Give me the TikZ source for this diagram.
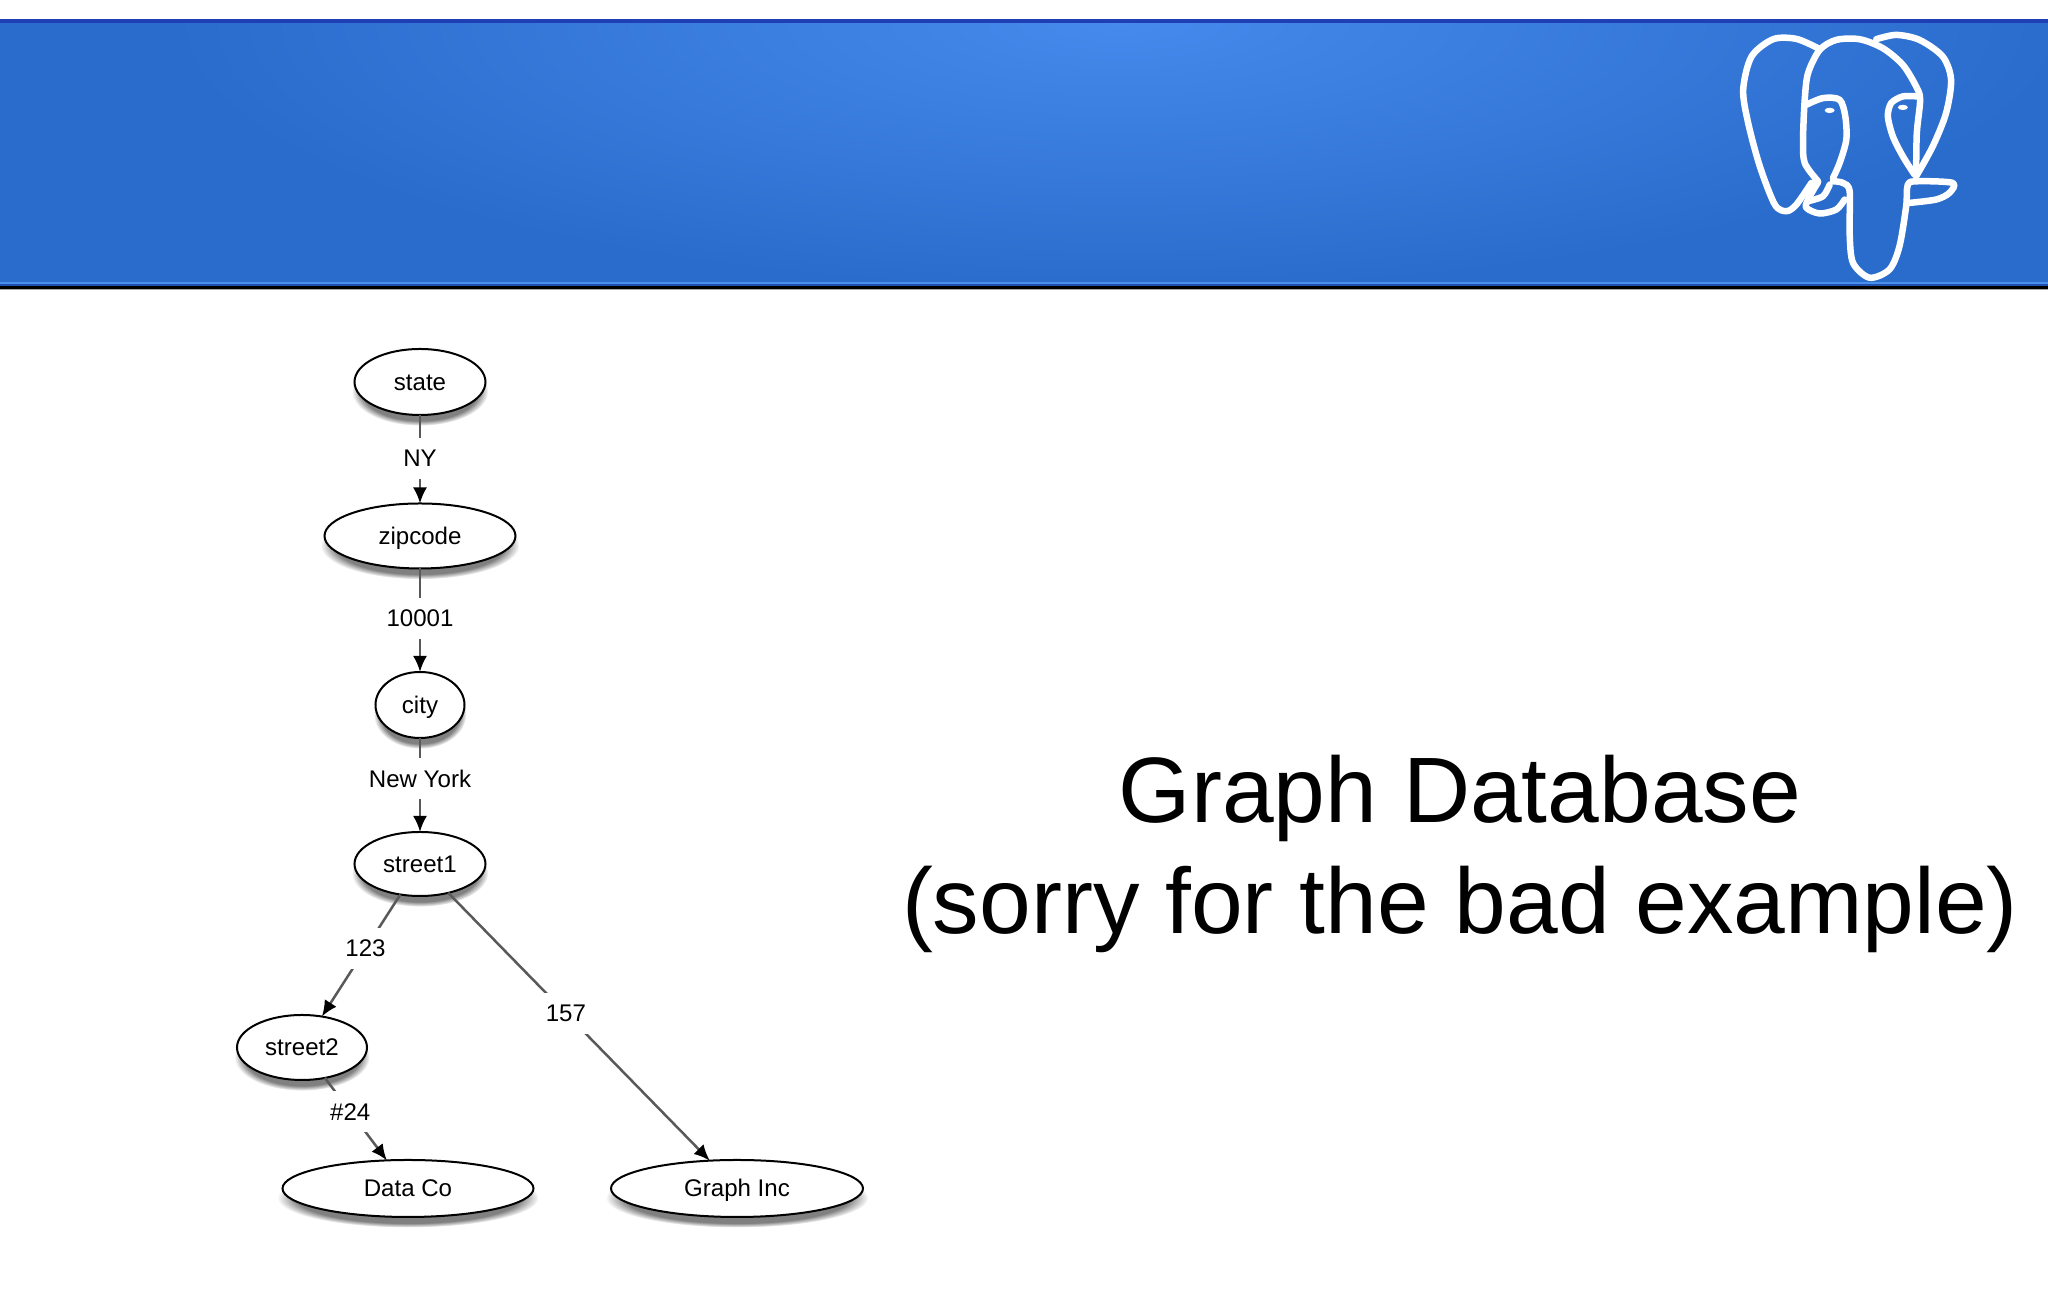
\documentclass[tikz,border=0pt]{standalone}
\usepackage{fontspec}
\setmainfont{Liberation Sans}
\usetikzlibrary{arrows.meta,shapes.geometric,shadows}

\definecolor{bandblue}{HTML}{2A6CCC}
\definecolor{bandglow}{HTML}{458AEC}
\definecolor{bandtop}{HTML}{1F3FB5}
\definecolor{bandlow}{HTML}{4A90EA}
\definecolor{bandrim}{HTML}{1F4FB0}
\pgfdeclareradialshading{bandshade}{\pgfpoint{0bp}{0bp}}{%
    color(0bp)=(bandglow); color(25bp)=(bandblue); color(50bp)=(bandblue)}

\tikzset{
    vert/.style={draw, ellipse, fill=white, line width=0.02cm, inner sep=0pt, outer sep=0pt,
        font=\fontsize{6.85}{8}\selectfont, text height=0.2cm, text depth=0.03cm,
        circular drop shadow={shadow xshift=0cm, shadow yshift=-0.09cm, shadow scale=1.04, opacity=1}},
    rel/.style={draw=black!65, line width=0.025cm, -{Latex[length=0.16cm,width=0.14cm,color=black]}},
    rellabel/.style={fill=white, inner sep=0.02cm, minimum height=0.41cm,
        font=\fontsize{6.85}{8}\selectfont},
    trace/.style={draw=white, line width=0.065cm, line cap=round, line join=round}
}

\begin{document}
\begin{tikzpicture}
    \useasboundingbox (0,0) rectangle (20.48,13.02);
    % header band
    \fill[bandblue] (0,12.81) rectangle (20.48,10.15);
    \begin{scope}
        \clip (0,12.81) rectangle (20.48,10.15);
        \shade[shading=bandshade] (11.2,12.81) ellipse (9.5 and 2.7);
    \end{scope}
    \fill[bandtop] (0,12.83) rectangle (20.48,12.79);
    \fill[bandlow] (0,10.2) rectangle (20.48,10.18);
    \fill[bandrim] (0,10.18) rectangle (20.48,10.16);
    \fill[black] (0,10.16) rectangle (20.48,10.13);
    \fill[black!35] (0,10.13) rectangle (20.48,10.12);

    % elephant, in units of a third of a pixel
    \begin{scope}[shift={(16.8,13.02)}, x=0.003333cm, y=-0.003333cm]
        \draw[trace] plot[smooth] coordinates {(415,145) (350,117) (280,118) (215,170) (190,270)
            (205,370) (240,500) (285,615) (320,635) (350,615) (395,550)};
        \draw[trace] plot[smooth] coordinates {(415,545) (375,490) (370,420) (375,300) (385,220)
            (420,150) (470,120) (540,118) (610,145) (670,195) (710,260) (722,300)
            (712,400) (710,520)};
        \draw[trace] plot[smooth] coordinates {(590,118) (650,105) (720,120) (790,170) (815,240)
            (800,340) (760,440) (710,530)};
        \draw[trace] plot[smooth] coordinates {(380,315) (430,295) (480,300) (497,350)
            (500,420) (480,490) (460,535)};
        \draw[trace] plot[smooth] coordinates {(715,290) (670,290) (635,310) (625,350)
            (640,410) (670,470) (705,525)};
        \draw[trace] plot[smooth] coordinates {(415,548) (385,600) (380,625) (420,642)
            (470,630) (495,600)};
        \draw[trace] plot[smooth] coordinates {(385,605) (430,590) (450,555)};
        \draw[trace] plot[smooth] coordinates {(460,545) (490,550) (510,575) (510,700) (520,790)
            (570,835) (630,810) (660,740) (680,620) (685,555) (715,545) (820,550)
            (810,580) (770,600) (690,610)};
        \fill[white] (450,332) ellipse (15 and 8);
        \fill[white] (670,323) ellipse (15 and 8);
    \end{scope}

    % graph
    \node[vert, minimum width=1.31cm, minimum height=0.66cm] (state) at (4.2,9.2) {state};
    \node[vert, minimum width=1.91cm, minimum height=0.65cm] (zipcode) at (4.2,7.66) {zipcode};
    \node[vert, minimum width=0.89cm, minimum height=0.66cm] (city) at (4.2,5.97) {city};
    \node[vert, minimum width=1.31cm, minimum height=0.64cm] (street1) at (4.2,4.38) {street1};
    \node[vert, minimum width=1.3cm, minimum height=0.65cm] (street2) at (3.02,2.545) {street2};
    \node[vert, minimum width=2.51cm, minimum height=0.57cm] (dataco) at (4.08,1.135) {Data Co};
    \node[vert, minimum width=2.52cm, minimum height=0.57cm] (graphinc) at (7.37,1.135) {Graph Inc};

    \draw[rel] (state) -- node[rellabel, pos=0.49] {NY} (zipcode);
    \draw[rel] (zipcode) -- node[rellabel, pos=0.485] {10001} (city);
    \draw[rel] (city) -- node[rellabel, pos=0.43] {New York} (street1);
    \draw[rel] (street1) -- node[rellabel, pos=0.444] {123} (street2);
    \draw[rel] (street1) -- node[rellabel, pos=0.45] {157} (graphinc);
    \draw[rel] (street2) -- node[rellabel, pos=0.41] {\#24} (dataco);

    \node[align=center, font=\fontsize{26.45}{31.5}\selectfont] (caption) at (14.6,4.48)
        {Graph Database\\(sorry for the bad example)};
\end{tikzpicture}
\end{document}
